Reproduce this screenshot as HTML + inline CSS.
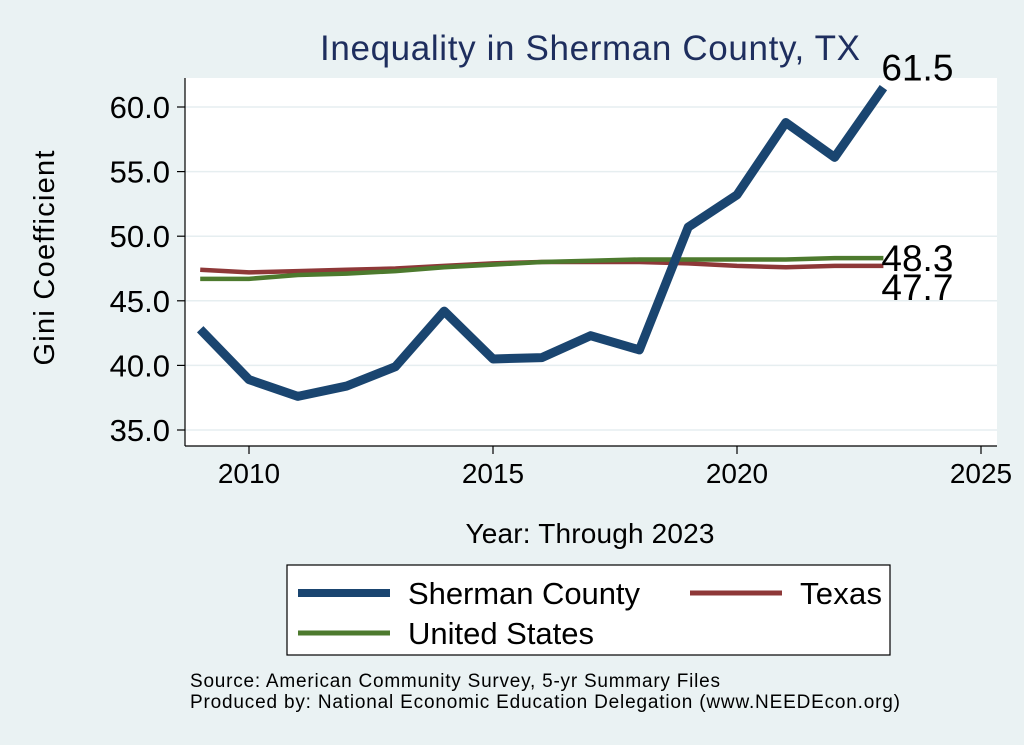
<!DOCTYPE html>
<html><head><meta charset="utf-8"><style>
body{margin:0;background:#eaf2f3;}
svg{display:block;font-family:"Liberation Sans",Arial,sans-serif;}
</style></head><body>
<svg id="chart" width="1024" height="745" viewBox="0 0 1024 745">
<rect x="0" y="0" width="1024" height="745" fill="#eaf2f3"/>
<rect x="185" y="78" width="812" height="368" fill="#fff"/>
<text x="590" y="60" font-size="35" fill="#1e2e5e" text-anchor="middle" textLength="540">Inequality in Sherman County, TX</text>
<text transform="translate(54,258) rotate(-90)" font-size="29" text-anchor="middle" textLength="215">Gini Coefficient</text>
<text x="590" y="543" font-size="28" text-anchor="middle" textLength="249">Year: Through 2023</text>
<g id="grid"></g><g id="axes"></g><g id="series"></g><g id="labels"></g>
<rect x="287" y="565" width="603" height="90" fill="#fff" stroke="#000" stroke-width="1.2"/>
<g><line x1="298" y1="593" x2="390" y2="593" stroke="#1a4570" stroke-width="8"/><text x="408" y="604" font-size="31" textLength="232">Sherman County</text></g>
<g><line x1="690" y1="593" x2="782" y2="593" stroke="#8e3838" stroke-width="5"/><text x="800" y="604" font-size="31" textLength="82">Texas</text></g>
<g><line x1="298" y1="633" x2="390" y2="633" stroke="#4d7a2e" stroke-width="5"/><text x="408" y="644" font-size="31" textLength="186">United States</text></g>
<text x="190" y="687" font-size="19" textLength="530">Source: American Community Survey, 5-yr Summary Files</text>
<text x="190" y="708" font-size="19" textLength="710">Produced by: National Economic Education Delegation (www.NEEDEcon.org)</text>
</svg>
<script>
const years=[2009,2010,2011,2012,2013,2014,2015,2016,2017,2018,2019,2020,2021,2022,2023];
const sherman=[42.8,38.9,37.6,38.4,39.9,44.2,40.5,40.6,42.3,41.2,50.7,53.2,58.8,56.1,61.5];
const texas=[47.4,47.2,47.3,47.4,47.5,47.7,47.9,48.0,48.0,48.0,47.9,47.7,47.6,47.7,47.7];
const us=[46.7,46.7,47.0,47.1,47.3,47.6,47.8,48.0,48.1,48.2,48.2,48.2,48.2,48.3,48.3];
const yTicks=[35,40,45,50,55,60];
const xTicks=[2010,2015,2020,2025];
const NS="http://www.w3.org/2000/svg";
const xs=v=>249+(v-2010)*48.8;
const ys=v=>430-(v-35)*12.92;
function mk(p,t,a){const e=document.createElementNS(NS,t);for(const k in a)e.setAttribute(k,a[k]);document.getElementById(p).appendChild(e);return e;}
mk('axes','line',{x1:185,y1:78,x2:185,y2:446,stroke:'#000','stroke-width':1.2});
mk('axes','line',{x1:185,y1:446,x2:997,y2:446,stroke:'#000','stroke-width':1.2});
yTicks.forEach(v=>{
 const g=mk('grid','line',{x1:185,x2:997,y1:ys(v),y2:ys(v),stroke:'#e6eef0','stroke-width':1.5});
 
 
 mk('axes','line',{x1:177,x2:185,y1:ys(v),y2:ys(v),stroke:'#000','stroke-width':1.2});
 const t=mk('axes','text',{x:170,y:ys(v)+11,'font-size':31,'text-anchor':'end'});
 t.textContent=v.toFixed(1);
 
 
});
xTicks.forEach(v=>{
 mk('axes','line',{x1:xs(v),x2:xs(v),y1:446,y2:454,stroke:'#000','stroke-width':1.2});
 const t=mk('axes','text',{x:xs(v),y:483,'font-size':28,'text-anchor':'middle'});
 t.textContent=v;
 
 
});
function line(vals,color,w,name){
 const p=mk('series','polyline',{points:vals.map((v,i)=>xs(years[i])+','+ys(v)).join(' '),fill:'none',stroke:color,'stroke-width':w,'stroke-linejoin':'round'});
 
 
}
line(texas,'#8e3838',4.5,'texas-line');
line(us,'#4d7a2e',4.5,'us-line');
line(sherman,'#1a4570',9,'sherman-line');
function lab(v,dy,name){
 const t=mk('labels','text',{x:xs(2023)-2,y:ys(v)+dy,'font-size':37});
 t.textContent=v.toFixed(1);
 
 
}
lab(sherman[14],-7,'sherman-end-label');
lab(us[14],13,'us-end-label');
lab(texas[14],34,'texas-end-label');
</script>
</body></html>
